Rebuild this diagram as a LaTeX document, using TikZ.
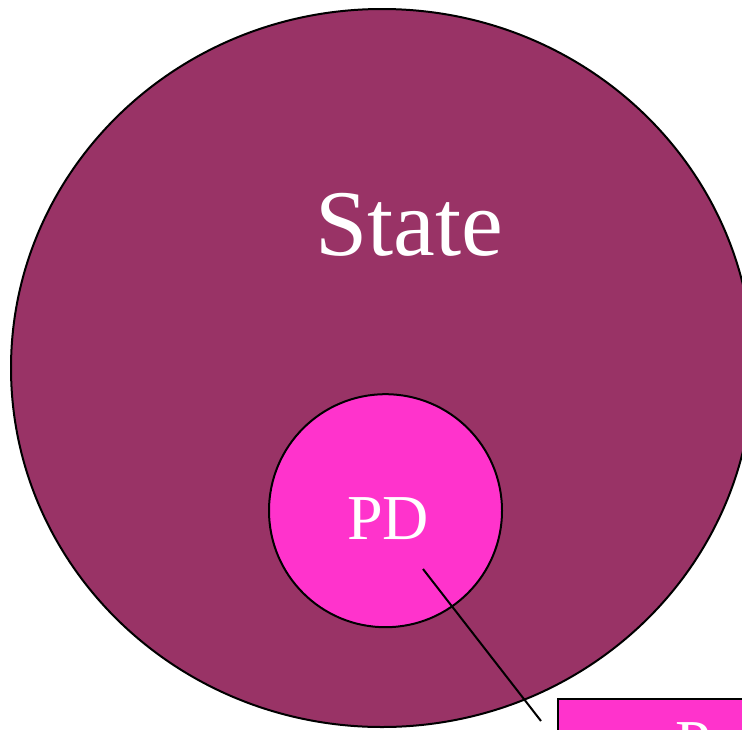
\documentclass[tikz,border=0pt]{standalone}
\usepackage{fontspec}
\setmainfont{Liberation Serif}
\usetikzlibrary{shapes.geometric}
\definecolor{statefill}{RGB}{153,51,102}
\definecolor{pdfill}{RGB}{255,51,204}
\tikzset{
  region/.style={draw=black, line width=2pt, inner sep=0pt},
  label text/.style={text=white, inner sep=0pt, anchor=base},
  link/.style={draw=black, line width=2pt}
}
\begin{document}
\begin{tikzpicture}[x=1pt, y=-1pt]
  \useasboundingbox (0,0) rectangle (742,729);
  % outer region
  \node[region, ellipse, fill=statefill, minimum width=742pt, minimum height=718pt] (state) at (382,368) {};
  \node[label text, font=\fontsize{94}{104}\selectfont] (statelbl) at (409,255) {State};
  % inner region
  \node[region, circle, fill=pdfill, minimum size=233pt] (pd) at (385.5,510.7) {};
  \node[label text, font=\fontsize{64}{72}\selectfont] (pdlbl) at (388,539.3) {PD};
  % box in the corner
  \node[region, rectangle, fill=pdfill, anchor=north west, minimum width=260pt, minimum height=120pt] (box) at (557,698) {};
  \node[label text, anchor=base west, font=\fontsize{64}{72}\selectfont] (boxlbl) at (675,764) {Police};
  % connector
  \coordinate (a) at (423,569);
  \coordinate (b) at (541,721);
  \draw[link] (a) -- (b);
\end{tikzpicture}
\end{document}
